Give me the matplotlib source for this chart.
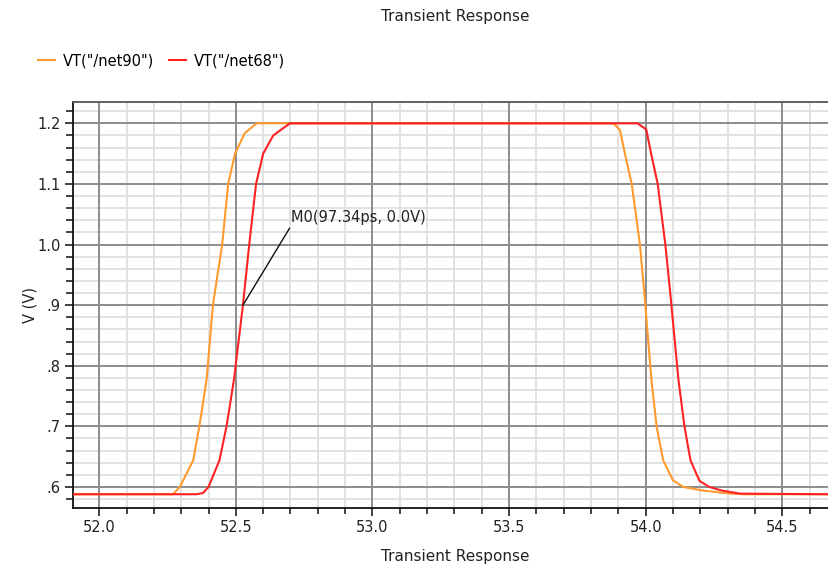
import matplotlib
matplotlib.use("Agg")
import matplotlib.pyplot as plt
import numpy as np
from matplotlib.ticker import MultipleLocator, FixedLocator

plt.rcParams['font.family'] = ['DejaVu Sans']

title = "Transient Response"
xlabel = "Transient Response"
ylabel = "V (V)"
series_names = ['VT("/net90")', 'VT("/net68")']

x_net90 = [51.90, 52.27, 52.295, 52.344, 52.366, 52.393, 52.416, 52.45, 52.472, 52.497,
           52.533, 52.576, 53.882, 53.906, 53.924, 53.949, 53.979, 53.995, 54.021, 54.04,
           54.064, 54.10, 54.138, 54.21, 54.31, 54.36, 54.68]
y_net90 = [0.588, 0.588, 0.6, 0.644, 0.699, 0.777, 0.9, 1.0, 1.1, 1.15,
           1.184, 1.2, 1.2, 1.189, 1.15, 1.1, 1.0, 0.92, 0.777, 0.7,
           0.644, 0.611, 0.6, 0.594, 0.589, 0.588, 0.588]

x_net68 = [51.90, 52.356, 52.38, 52.40, 52.44, 52.466, 52.493, 52.526, 52.549, 52.574,
           52.60, 52.637, 52.698, 53.97, 54.002, 54.02, 54.044, 54.072, 54.09, 54.12,
           54.142, 54.164, 54.197, 54.233, 54.28, 54.345, 54.68]
y_net68 = [0.588, 0.588, 0.59, 0.6, 0.644, 0.7, 0.777, 0.9, 1.0, 1.1,
           1.15, 1.18, 1.2, 1.2, 1.19, 1.15, 1.1, 1.0, 0.92, 0.777,
           0.7, 0.644, 0.61, 0.6, 0.594, 0.589, 0.588]

xticks = [52.0, 52.5, 53.0, 53.5, 54.0, 54.5]
xtick_labels = ["52.0", "52.5", "53.0", "53.5", "54.0", "54.5"]
yticks = [0.6, 0.7, 0.8, 0.9, 1.0, 1.1, 1.2]
ytick_labels = [".6", ".7", ".8", ".9", "1.0", "1.1", "1.2"]

marker_label = "M0(97.34ps, 0.0V)"
marker_point = (52.526, 0.9)
marker_text = (52.703, 1.044)

fig = plt.figure(figsize=(8.29, 5.69), dpi=100)
ax = fig.add_axes([73/829, 1 - 508/569, 1 - 73/829, (508 - 102)/569])

xlim = (51.904, 54.671)
ylim = (0.5653, 1.2352)
ax.set_xlim(*xlim)
ax.set_ylim(*ylim)

ax.xaxis.set_major_locator(FixedLocator(xticks))
ax.set_xticklabels(xtick_labels)
ax.xaxis.set_minor_locator(MultipleLocator(0.1))
ax.yaxis.set_major_locator(FixedLocator(yticks))
ax.set_yticklabels(ytick_labels)
ax.yaxis.set_minor_locator(MultipleLocator(0.02))

# minor grid (light) drawn beneath the major grid
for xv in ax.xaxis.get_minorticklocs():
    if xlim[0] < xv < xlim[1]:
        ax.axvline(xv, color='#e2e2e2', linewidth=1.4, zorder=0.1)
for yv in ax.yaxis.get_minorticklocs():
    if ylim[0] < yv < ylim[1]:
        ax.axhline(yv, color='#e2e2e2', linewidth=1.4, zorder=0.1)
for xv in xticks:
    ax.axvline(xv, color='#8c8c8c', linewidth=1.4, zorder=0.5)
for yv in yticks:
    ax.axhline(yv, color='#8c8c8c', linewidth=1.4, zorder=0.5)

ax.tick_params(axis='both', which='major', direction='out', length=6, width=1.2,
               labelsize=10.5, colors='#222222', pad=3)
ax.tick_params(axis='y', which='minor', direction='out', length=5, width=1.2, color='#222222')
ax.tick_params(axis='x', which='minor', direction='out', length=4, width=1.2, color='#222222')

for s in ['left', 'bottom']:
    ax.spines[s].set_color('#111111')
    ax.spines[s].set_linewidth(1.3)
ax.spines['top'].set_color('#555555')
ax.spines['top'].set_linewidth(1.3)
ax.spines['right'].set_visible(False)

l1, = ax.plot(x_net90, y_net90, color='#ff9a2e', linewidth=1.5, zorder=3, label=series_names[0])
l2, = ax.plot(x_net68, y_net68, color='#ff2222', linewidth=1.5, zorder=4, label=series_names[1])

ax.annotate(marker_label, xy=marker_point, xytext=marker_text,
            fontsize=10.5, color='#222222', va='center', ha='left',
            arrowprops=dict(arrowstyle='-', color='#111111', linewidth=1.0,
                            shrinkA=0, shrinkB=0,
                            relpos=(0.0, 0.0)), zorder=5)

fig.text(455/829, 1 - 16/569, title, ha='center', va='center', fontsize=11, color='#222222')
fig.text(455/829, 1 - 557/569, xlabel, ha='center', va='center', fontsize=11, color='#222222')
fig.text(30/829, 1 - 305/569, ylabel, ha='center', va='center', rotation=90, fontsize=10.5, color='#222222')

fig.legend(handles=[l1, l2], loc='center left', bbox_to_anchor=(38/829, 1 - 61/569),
           ncol=2, frameon=False, fontsize=10.5, handlelength=1.2, handletextpad=0.5,
           columnspacing=1.0, borderaxespad=0, borderpad=0)

fig.savefig("out.png", dpi=100)
